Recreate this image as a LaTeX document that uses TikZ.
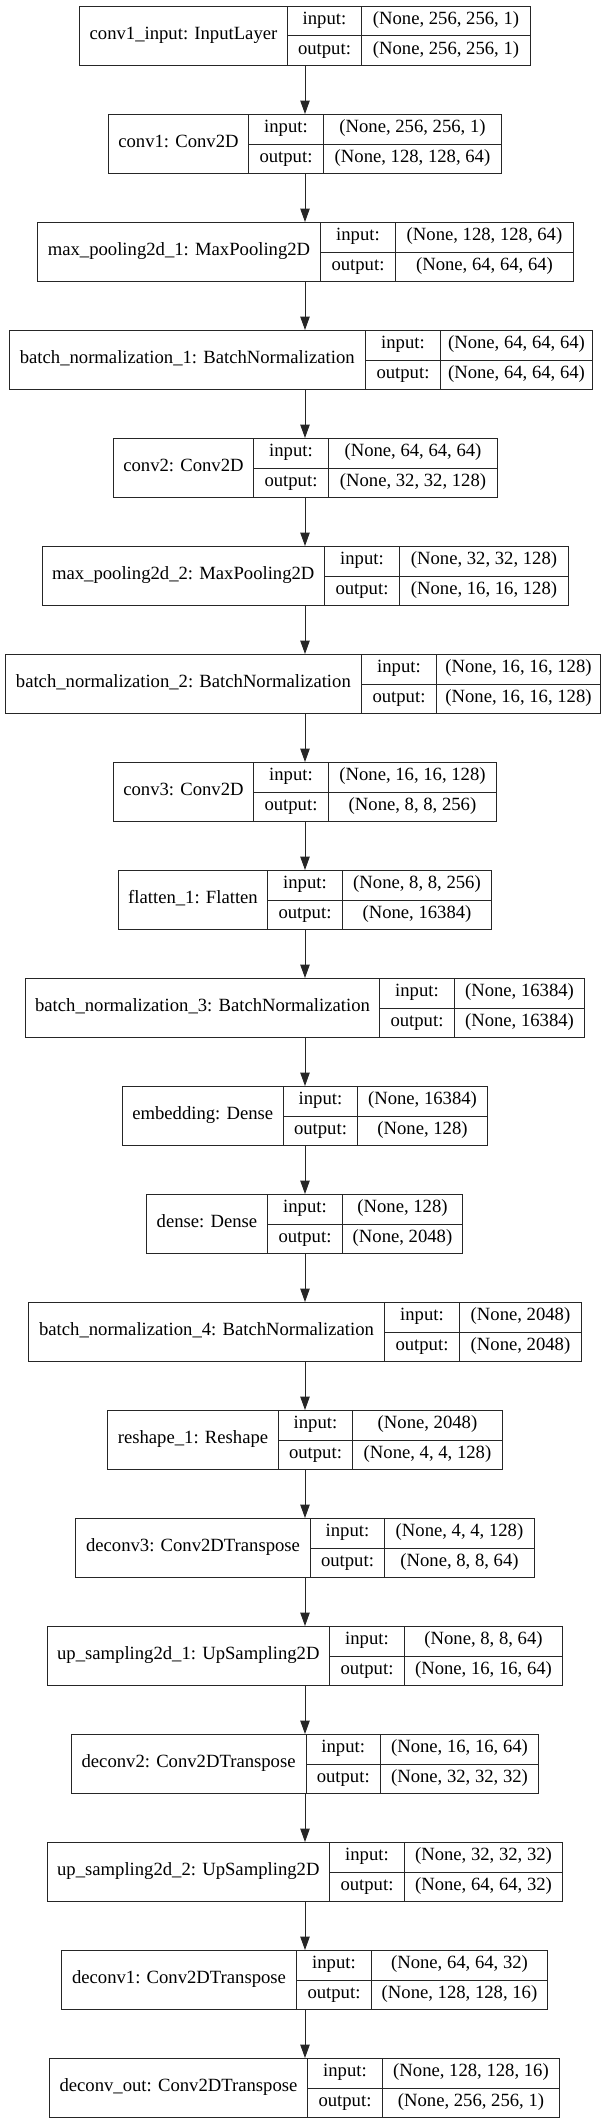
\documentclass[tikz,border=0pt]{standalone}
\usepackage{fontspec}
\setmainfont{Liberation Serif}
\usepackage{tikz}
\usetikzlibrary{arrows.meta,positioning}
\tikzset{
  cellbox/.style={draw=black!85, rectangle, inner sep=0pt, line width=0.75pt,
                  font=\fontsize{14}{16}\selectfont,
                  text height=0.72em, text depth=0.22em, anchor=north west},
  lname/.style  ={cellbox, minimum height=44.25pt},
  iocell/.style ={cellbox, minimum height=22.125pt},
  arr/.style    ={-{Triangle[length=10pt, width=7pt]}, line width=0.75pt,
                  black!85},
}
% one keras layer: name, top, left, div1, div2, right, label, in, out
\newcommand{\kerasbox}[9]{%
  \node[lname, minimum width={(#4-#3)*0.75pt}] (#1) at (#3,#2) {#7};
  \node[iocell, minimum width={(#5-#4)*0.75pt}] (#1-i) at (#4,#2) {input:};
  \node[iocell, minimum width={(#5-#4)*0.75pt}] (#1-o) at (#4,#2+29.5) {output:};
  \node[iocell, minimum width={(#6-#5)*0.75pt}] (#1-is) at (#5,#2) {#8};
  \node[iocell, minimum width={(#6-#5)*0.75pt}] (#1-os) at (#5,#2+29.5) {#9};
}

\begin{document}
\begin{tikzpicture}[x=0.75pt, y=-0.75pt]
  \useasboundingbox (0,0) rectangle (607,2123);
  \coordinate (axis) at (305,0);

  \kerasbox{in}{6}{79}{287}{361}{530}{conv1\_input: InputLayer}
    {(None, 256, 256, 1)}{(None, 256, 256, 1)}
  \kerasbox{c1}{114}{108}{248}{323}{501}{conv1: Conv2D}
    {(None, 256, 256, 1)}{(None, 128, 128, 64)}
  \kerasbox{mp1}{222}{37}{320}{395}{573}{max\_pooling2d\_1: MaxPooling2D}
    {(None, 128, 128, 64)}{(None, 64, 64, 64)}
  \kerasbox{bn1}{330}{8.5}{365}{440}{592}{batch\_normalization\_1: BatchNormalization}
    {(None, 64, 64, 64)}{(None, 64, 64, 64)}
  \kerasbox{c2}{438}{113}{253}{328}{497}{conv2: Conv2D}
    {(None, 64, 64, 64)}{(None, 32, 32, 128)}
  \kerasbox{mp2}{546}{41.5}{324}{399}{568}{max\_pooling2d\_2: MaxPooling2D}
    {(None, 32, 32, 128)}{(None, 16, 16, 128)}
  \kerasbox{bn2}{654}{4.7}{361}{436}{600}{batch\_normalization\_2: BatchNormalization}
    {(None, 16, 16, 128)}{(None, 16, 16, 128)}
  \kerasbox{c3}{762}{113}{253}{328}{496}{conv3: Conv2D}
    {(None, 16, 16, 128)}{(None, 8, 8, 256)}
  \kerasbox{fl}{870}{118}{267}{342}{491}{flatten\_1: Flatten}
    {(None, 8, 8, 256)}{(None, 16384)}
  \kerasbox{bn3}{978}{25}{379}{454}{584}{batch\_normalization\_3: BatchNormalization}
    {(None, 16384)}{(None, 16384)}
  \kerasbox{emb}{1086}{121.5}{283}{357}{487}{embedding: Dense}
    {(None, 16384)}{(None, 128)}
  \kerasbox{dn}{1194}{146}{267}{342}{462}{dense: Dense}
    {(None, 128)}{(None, 2048)}
  \kerasbox{bn4}{1302}{28}{384}{459}{581}{batch\_normalization\_4: BatchNormalization}
    {(None, 2048)}{(None, 2048)}
  \kerasbox{rs}{1410}{107}{278}{352}{502}{reshape\_1: Reshape}
    {(None, 2048)}{(None, 4, 4, 128)}
  \kerasbox{dc3}{1518}{75}{310}{384}{534}{deconv3: Conv2DTranspose}
    {(None, 4, 4, 128)}{(None, 8, 8, 64)}
  \kerasbox{up1}{1626}{46.6}{329}{404}{562}{up\_sampling2d\_1: UpSampling2D}
    {(None, 8, 8, 64)}{(None, 16, 16, 64)}
  \kerasbox{dc2}{1734}{70.7}{305.5}{380}{538}{deconv2: Conv2DTranspose}
    {(None, 16, 16, 64)}{(None, 32, 32, 32)}
  \kerasbox{up2}{1842}{46.6}{329}{404}{562}{up\_sampling2d\_2: UpSampling2D}
    {(None, 32, 32, 32)}{(None, 64, 64, 32)}
  \kerasbox{dc1}{1950}{61}{296}{371}{547}{deconv1: Conv2DTranspose}
    {(None, 64, 64, 32)}{(None, 128, 128, 16)}
  \kerasbox{dco}{2058}{49}{307}{382}{559}{deconv\_out: Conv2DTranspose}
    {(None, 128, 128, 16)}{(None, 256, 256, 1)}

  % flow between layers
  \draw[arr] (in.south -| axis) -- (c1.north -| axis);
  \draw[arr] (c1.south -| axis) -- (mp1.north -| axis);
  \draw[arr] (mp1.south -| axis) -- (bn1.north -| axis);
  \draw[arr] (bn1.south -| axis) -- (c2.north -| axis);
  \draw[arr] (c2.south -| axis) -- (mp2.north -| axis);
  \draw[arr] (mp2.south -| axis) -- (bn2.north -| axis);
  \draw[arr] (bn2.south -| axis) -- (c3.north -| axis);
  \draw[arr] (c3.south -| axis) -- (fl.north -| axis);
  \draw[arr] (fl.south -| axis) -- (bn3.north -| axis);
  \draw[arr] (bn3.south -| axis) -- (emb.north -| axis);
  \draw[arr] (emb.south -| axis) -- (dn.north -| axis);
  \draw[arr] (dn.south -| axis) -- (bn4.north -| axis);
  \draw[arr] (bn4.south -| axis) -- (rs.north -| axis);
  \draw[arr] (rs.south -| axis) -- (dc3.north -| axis);
  \draw[arr] (dc3.south -| axis) -- (up1.north -| axis);
  \draw[arr] (up1.south -| axis) -- (dc2.north -| axis);
  \draw[arr] (dc2.south -| axis) -- (up2.north -| axis);
  \draw[arr] (up2.south -| axis) -- (dc1.north -| axis);
  \draw[arr] (dc1.south -| axis) -- (dco.north -| axis);
\end{tikzpicture}
\end{document}
